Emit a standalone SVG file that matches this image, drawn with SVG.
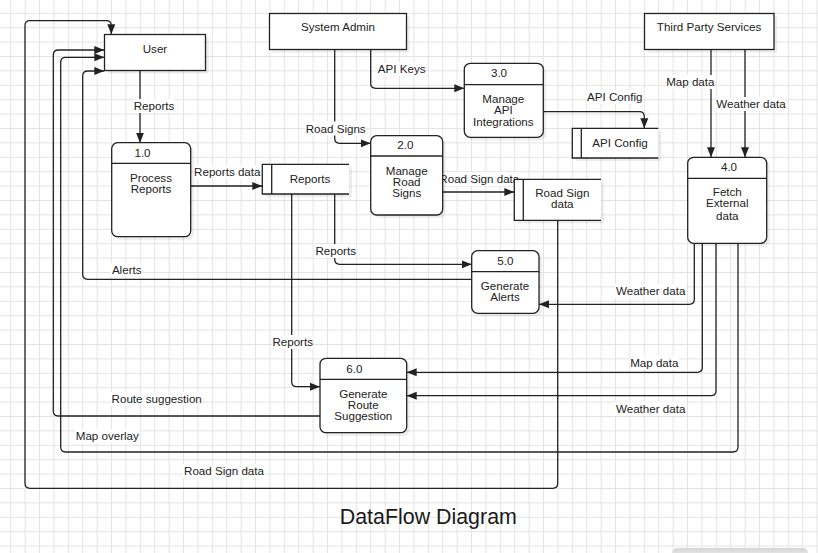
<svg xmlns="http://www.w3.org/2000/svg" width="818" height="553" viewBox="0 0 818 553">
<style>
text{font-family:"Liberation Sans",Arial,Helvetica,sans-serif;font-size:11.6px;fill:#222;text-anchor:middle}
.box{fill:#fff;stroke:#222;stroke-width:1.3}
.sh{fill:#000;opacity:0.07}
.div{stroke:#222;stroke-width:1.3;fill:none}
.edge{fill:none;stroke:#222;stroke-width:1.3}
.lbg{fill:#fff}
.title{font-size:21.4px;fill:#1a1a1a}
</style>
<defs>
<pattern id="grid" patternUnits="userSpaceOnUse" x="10.2" y="12.8" width="14.4" height="14.4">
<path d="M0 0.5H14.4M0.5 0V14.4" stroke="#e3e3e3" stroke-width="1" fill="none"/>
</pattern>
<marker id="arr" markerUnits="userSpaceOnUse" markerWidth="11" markerHeight="9" refX="10" refY="4.5" orient="auto">
<path d="M0,0.5 L10,4.5 L0,8.5 z" fill="#222"/>
</marker>
<linearGradient id="bg2" x1="0" y1="0" x2="0" y2="1">
<stop offset="0" stop-color="#d6d6d6"/>
<stop offset="1" stop-color="#f2f2f2"/>
</linearGradient>
</defs>
<rect width="818" height="553" fill="#fff"/>
<rect width="818" height="553" fill="url(#grid)"/>
<rect x="672" y="548" width="136" height="12" rx="5" fill="url(#bg2)"/>

<g id="connectors">
<path class="edge" marker-end="url(#arr)" d="M140,70.7 V142.7"/>
<path class="edge" marker-end="url(#arr)" d="M190.7,186 H262.3"/>
<path class="edge" marker-end="url(#arr)" d="M370.7,49.3 V83.3 Q370.7,88.3 375.7,88.3 H464.3"/>
<path class="edge" marker-end="url(#arr)" d="M334.7,49.3 V138.3 Q334.7,143.3 339.7,143.3 H370.7"/>
<path class="edge" marker-end="url(#arr)" d="M543.3,111.7 H639.3 Q644.3,111.7 644.3,116.7 V128.3"/>
<path class="edge" marker-end="url(#arr)" d="M711,49.3 V157.3"/>
<path class="edge" marker-end="url(#arr)" d="M745,49.3 V157.3"/>
<path class="edge" marker-end="url(#arr)" d="M442.7,192 H514.3"/>
<path class="edge" marker-end="url(#arr)" d="M334.7,194 V259.3 Q334.7,264.3 339.7,264.3 H471.7"/>
<path class="edge" marker-end="url(#arr)" d="M291.7,194 V381.7 Q291.7,386.7 296.7,386.7 H320"/>
<path class="edge" marker-end="url(#arr)" d="M471.7,279.3 H87.7 Q82.7,279.3 82.7,274.3 V76 Q82.7,71 87.7,71 H104.3"/>
<path class="edge" marker-end="url(#arr)" d="M320,416 H58.3 Q53.3,416 53.3,411 V55 Q53.3,50 58.3,50 H104.3"/>
<path class="edge" marker-end="url(#arr)" d="M738,243.3 V447 Q738,452 733,452 H65.7 Q60.7,452 60.7,447 V62.3 Q60.7,57.3 65.7,57.3 H104.3"/>
<path class="edge" marker-end="url(#arr)" d="M557.7,220.3 V483.3 Q557.7,488.3 552.7,488.3 H30 Q25,488.3 25,483.3 V25.7 Q25,20.7 30,20.7 H106.3 Q111.3,20.7 111.3,25.7 V34.3"/>
<path class="edge" marker-end="url(#arr)" d="M694.3,243.3 V299.3 Q694.3,304.3 689.3,304.3 H539"/>
<path class="edge" marker-end="url(#arr)" d="M702.3,243.3 V367.3 Q702.3,372.3 697.3,372.3 H406.7"/>
<path class="edge" marker-end="url(#arr)" d="M716,243.3 V390.7 Q716,395.7 711,395.7 H406.7"/>

<rect class="lbg" x="134" y="99" width="40" height="14"/><text x="154" y="110">Reports</text>
<rect class="lbg" x="194" y="165" width="66" height="14"/><text x="227.3" y="176">Reports data</text>
<rect class="lbg" x="378" y="62" width="47" height="14"/><text x="401.7" y="73">API Keys</text>
<rect class="lbg" x="305" y="121.5" width="61" height="14"/><text x="335.7" y="132.5">Road Signs</text>
<rect class="lbg" x="586" y="90" width="57" height="14"/><text x="614.7" y="101">API Config</text>
<rect class="lbg" x="666" y="75" width="49" height="14"/><text x="690.3" y="86">Map data</text>
<rect class="lbg" x="716" y="97" width="70" height="14"/><text x="751" y="108">Weather data</text>
<rect class="lbg" x="439" y="172" width="81" height="14"/><text x="479.3" y="183">Road Sign data</text>
<rect class="lbg" x="315" y="244" width="41" height="14"/><text x="335.7" y="255">Reports</text>
<rect class="lbg" x="272" y="335" width="41" height="14"/><text x="292.7" y="346">Reports</text>
<rect class="lbg" x="110" y="262.5" width="33" height="14"/><text x="126.7" y="273.5">Alerts</text>
<rect class="lbg" x="615" y="284" width="71" height="14"/><text x="650.7" y="295">Weather data</text>
<rect class="lbg" x="630" y="355.5" width="49" height="14"/><text x="654.3" y="366.5">Map data</text>
<rect class="lbg" x="615" y="401.5" width="71" height="14"/><text x="650.7" y="412.5">Weather data</text>
<rect class="lbg" x="111" y="392" width="91" height="14"/><text x="156.7" y="403">Route suggestion</text>
<rect class="lbg" x="75" y="429" width="65" height="14"/><text x="107.3" y="440">Map overlay</text>
<rect class="lbg" x="183" y="464" width="82" height="14"/><text x="224" y="475">Road Sign data</text>
</g>

<g id="user">
<rect class="sh" x="107.5" y="37.5" width="101" height="36"/>
<rect class="box" x="104.5" y="34.5" width="101" height="36"/>
<text x="155" y="53">User</text>
</g>
<g id="system-admin">
<rect class="sh" x="272.5" y="16.5" width="137" height="36"/>
<rect class="box" x="269.5" y="13.5" width="137" height="36"/>
<text x="338" y="31">System Admin</text>
</g>
<g id="third-party">
<rect class="sh" x="647.5" y="16.5" width="129.5" height="36"/>
<rect class="box" x="644.5" y="13.5" width="129.5" height="36"/>
<text x="709" y="31">Third Party Services</text>
</g>

<g id="p1">
<rect class="sh" x="114.7" y="145.7" width="79" height="94" rx="6"/>
<rect class="box" x="111.7" y="142.7" width="79" height="94" rx="6"/>
<path class="div" d="M111.7,163.3 H190.7"/>
<text x="142.5" y="157">1.0</text>
<text x="151" y="181.5">Process</text>
<text x="151" y="193">Reports</text>
</g>
<g id="p2">
<rect class="sh" x="373.7" y="138.7" width="72" height="79.3" rx="6"/>
<rect class="box" x="370.7" y="135.7" width="72" height="79.3" rx="6"/>
<path class="div" d="M370.7,156 H442.7"/>
<text x="405.3" y="149">2.0</text>
<text x="406.7" y="174.5">Manage</text>
<text x="406.7" y="185.7">Road</text>
<text x="406.7" y="197">Signs</text>
</g>
<g id="p3">
<rect class="sh" x="467.3" y="66.3" width="79" height="74" rx="6"/>
<rect class="box" x="464.3" y="63.3" width="79" height="74" rx="6"/>
<path class="div" d="M464.3,84.7 H543.3"/>
<text x="499" y="76.7">3.0</text>
<text x="503.3" y="103">Manage</text>
<text x="503.3" y="114">API</text>
<text x="503.3" y="125.5">Integrations</text>
</g>
<g id="p4">
<rect class="sh" x="690.7" y="160.3" width="79" height="86" rx="6"/>
<rect class="box" x="687.7" y="157.3" width="79" height="86" rx="6"/>
<path class="div" d="M687.7,178.3 H766.7"/>
<text x="729" y="170.7">4.0</text>
<text x="727.3" y="195.7">Fetch</text>
<text x="727.3" y="207.3">External</text>
<text x="727.3" y="219.5">data</text>
</g>
<g id="p5">
<rect class="sh" x="474.7" y="253.7" width="67.3" height="62.6" rx="6"/>
<rect class="box" x="471.7" y="250.7" width="67.3" height="62.6" rx="6"/>
<path class="div" d="M471.7,271.7 H539"/>
<text x="505.3" y="264.7">5.0</text>
<text x="505" y="289.7">Generate</text>
<text x="505" y="300.7">Alerts</text>
</g>
<g id="p6">
<rect class="sh" x="323" y="361.3" width="86.7" height="74.4" rx="6"/>
<rect class="box" x="320" y="358.3" width="86.7" height="74.4" rx="6"/>
<path class="div" d="M320,379.3 H406.7"/>
<text x="354.3" y="373">6.0</text>
<text x="363.3" y="398">Generate</text>
<text x="363.3" y="409">Route</text>
<text x="363.3" y="420">Suggestion</text>
</g>

<g id="store-reports">
<rect class="sh" x="265.3" y="167.3" width="86.7" height="29.7"/>
<rect x="262.3" y="164.3" width="86.7" height="29.7" fill="#fff"/>
<path class="div" d="M349,164.3 H262.3 V194 H349 M271.7,164.3 V194"/>
<text x="310" y="183">Reports</text>
</g>
<g id="store-roadsign">
<rect class="sh" x="517.3" y="182.3" width="86.7" height="41"/>
<rect x="514.3" y="179.3" width="86.7" height="41" fill="#fff"/>
<path class="div" d="M601,179.3 H514.3 V220.3 H601 M523.3,179.3 V220.3"/>
<text x="562.3" y="196.7">Road Sign</text>
<text x="562.3" y="208">data</text>
</g>
<g id="store-apiconfig">
<rect class="sh" x="575.3" y="131.3" width="86" height="29.7"/>
<rect x="572.3" y="128.3" width="86" height="29.7" fill="#fff"/>
<path class="div" d="M658.3,128.3 H572.3 V158 H658.3 M581.3,128.3 V158"/>
<text x="620" y="147.3">API Config</text>
</g>

<text class="title" x="428.3" y="524">DataFlow Diagram</text>
</svg>
